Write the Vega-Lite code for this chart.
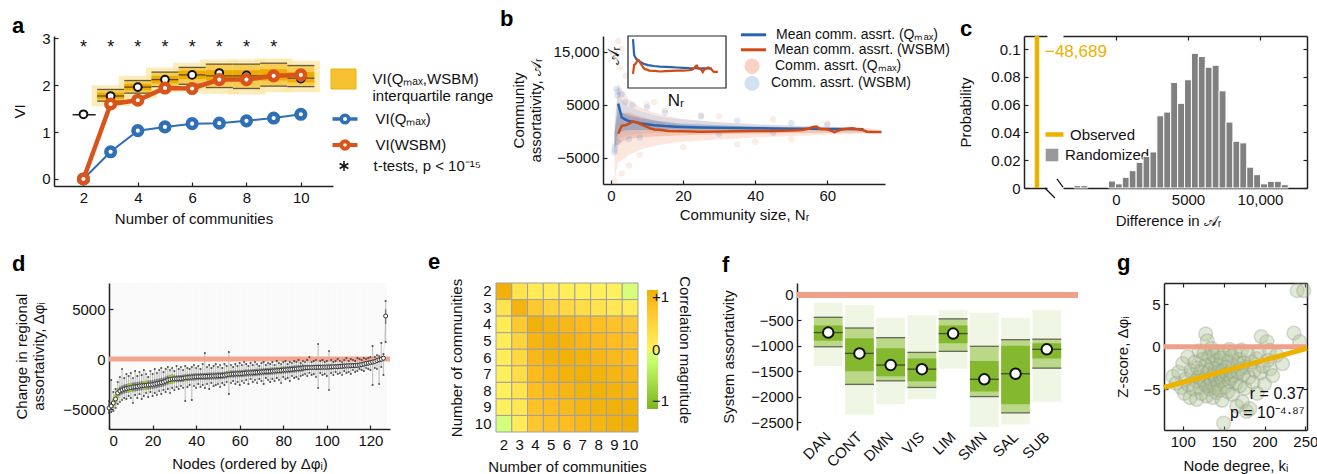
{
"$schema": "https://vega.github.io/schema/vega-lite/v6.json",
"background": "white",
"padding": {"left": 12, "top": 8, "right": 2, "bottom": 2},
"config": {
  "font": "Liberation Sans",
  "view": {"stroke": null},
  "axis": {"labelFontSize": 15, "titleFontSize": 15, "titleFontWeight": "normal", "labelColor": "#111", "titleColor": "#111", "domainColor": "#222", "tickColor": "#222", "domainWidth": 1.5, "tickWidth": 1.2, "grid": false, "tickSize": -4, "labelPadding": 8, "labelOverlap": false, "labelFont": "Liberation Sans", "titleFont": "Liberation Sans"},
  "legend": {"labelFontSize": 14, "labelFont": "Liberation Sans", "labelColor": "#111", "labelLimit": 400},
  "title": {"fontSize": 22, "fontWeight": "bold", "anchor": "start", "frame": "group", "color": "#000", "font": "Liberation Sans"}
},
"datasets": {
  "aIQR": [
    {"n":3,"q1":1.66,"q3":1.91,"med":1.77,"cl":1.71,"ch":1.84,"gl":1.55,"gh":2.0},
    {"n":4,"q1":1.83,"q3":2.1,"med":1.96,"cl":1.89,"ch":2.03,"gl":1.72,"gh":2.2},
    {"n":5,"q1":1.97,"q3":2.28,"med":2.12,"cl":2.04,"ch":2.2,"gl":1.85,"gh":2.38},
    {"n":6,"q1":2.02,"q3":2.38,"med":2.22,"cl":2.13,"ch":2.31,"gl":1.9,"gh":2.48},
    {"n":7,"q1":1.95,"q3":2.45,"med":2.2,"cl":2.1,"ch":2.32,"gl":1.82,"gh":2.55},
    {"n":8,"q1":1.93,"q3":2.45,"med":2.2,"cl":2.1,"ch":2.32,"gl":1.8,"gh":2.55},
    {"n":9,"q1":1.98,"q3":2.47,"med":2.2,"cl":2.1,"ch":2.34,"gl":1.85,"gh":2.57},
    {"n":10,"q1":1.97,"q3":2.42,"med":2.15,"cl":2.06,"ch":2.28,"gl":1.85,"gh":2.52}
  ],
  "aCirc": [{"n":2,"v":1.38},{"n":3,"v":1.77},{"n":4,"v":1.96},{"n":5,"v":2.12},{"n":6,"v":2.22},{"n":7,"v":2.26},{"n":8,"v":2.21},{"n":9,"v":2.2},{"n":10,"v":2.14}],
  "aVI": [{"n":2,"q":0,"w":0},{"n":3,"q":0.58,"w":1.6},{"n":4,"q":1.03,"w":1.68},{"n":5,"q":1.11,"w":1.94},{"n":6,"q":1.18,"w":1.93},{"n":7,"q":1.19,"w":2.12},{"n":8,"q":1.24,"w":2.12},{"n":9,"q":1.3,"w":2.2},{"n":10,"q":1.38,"w":2.22}],
  "aStars": [{"n":2},{"n":3},{"n":4},{"n":5},{"n":6},{"n":7},{"n":8},{"n":9}],
  "bMeanQ": [{"x":2,"y":5200},{"x":3,"y":2600},{"x":4,"y":2200},{"x":5,"y":1900},{"x":6,"y":1800},{"x":7,"y":1700},{"x":8,"y":1500},{"x":10,"y":1300},{"x":12,"y":1100},{"x":15,"y":950},{"x":18,"y":850},{"x":20,"y":800},{"x":25,"y":700},{"x":30,"y":650},{"x":35,"y":600},{"x":40,"y":550},{"x":45,"y":500},{"x":50,"y":450},{"x":55,"y":430},{"x":60,"y":420},{"x":65,"y":400},{"x":70,"y":380}],
  "bMeanW": [{"x":2,"y":-500},{"x":3,"y":1000},{"x":4,"y":1100},{"x":5,"y":1400},{"x":6,"y":1800},{"x":7,"y":1700},{"x":8,"y":1400},{"x":9,"y":1100},{"x":10,"y":800},{"x":11,"y":500},{"x":12,"y":300},{"x":14,"y":200},{"x":16,"y":50},{"x":20,"y":0},{"x":25,"y":-100},{"x":30,"y":-50},{"x":35,"y":0},{"x":40,"y":50},{"x":45,"y":50},{"x":50,"y":100},{"x":53,"y":200},{"x":55,"y":500},{"x":56,"y":800},{"x":57,"y":850},{"x":58,"y":400},{"x":60,"y":350},{"x":61,"y":100},{"x":62,"y":-200},{"x":63,"y":100},{"x":64,"y":300},{"x":66,"y":500},{"x":67,"y":550},{"x":68,"y":400},{"x":69,"y":300},{"x":70,"y":150},{"x":71,"y":-100},{"x":72,"y":-150},{"x":75,"y":-150}],
  "bEnvW": [{"x":1,"lo":-9000,"hi":1500,"lo2":-3000,"hi2":0},{"x":2,"lo":-6000,"hi":9000,"lo2":-2500,"hi2":3000},{"x":3,"lo":-5500,"hi":8000,"lo2":-2000,"hi2":3500},{"x":5,"lo":-4500,"hi":6000,"lo2":-1500,"hi2":3500},{"x":8,"lo":-3500,"hi":4500,"lo2":-1200,"hi2":2800},{"x":12,"lo":-2800,"hi":3500,"lo2":-1000,"hi2":2000},{"x":16,"lo":-2300,"hi":2800,"lo2":-900,"hi2":1500},{"x":20,"lo":-2000,"hi":2300,"lo2":-800,"hi2":1100},{"x":30,"lo":-1600,"hi":1700,"lo2":-600,"hi2":700},{"x":40,"lo":-1200,"hi":1300,"lo2":-500,"hi2":500},{"x":50,"lo":-900,"hi":1000,"lo2":-400,"hi2":500},{"x":60,"lo":-700,"hi":900,"lo2":-300,"hi2":600},{"x":70,"lo":-500,"hi":700,"lo2":-300,"hi2":400},{"x":75,"lo":-400,"hi":100,"lo2":-300,"hi2":0}],
  "bEnvQ": [{"x":1,"lo":-3500,"hi":500,"lo2":-3000,"hi2":-200},{"x":2,"lo":-1500,"hi":8500,"lo2":-500,"hi2":5500},{"x":3,"lo":-1200,"hi":6000,"lo2":0,"hi2":3500},{"x":5,"lo":-800,"hi":4500,"lo2":200,"hi2":3000},{"x":8,"lo":-500,"hi":3800,"lo2":200,"hi2":2500},{"x":12,"lo":-300,"hi":3000,"lo2":300,"hi2":2000},{"x":16,"lo":-200,"hi":2500,"lo2":300,"hi2":1700},{"x":20,"lo":-100,"hi":2200,"lo2":300,"hi2":1400},{"x":30,"lo":0,"hi":1700,"lo2":300,"hi2":1100},{"x":40,"lo":100,"hi":1300,"lo2":300,"hi2":900},{"x":50,"lo":200,"hi":1000,"lo2":300,"hi2":750},{"x":60,"lo":250,"hi":800,"lo2":350,"hi2":650},{"x":70,"lo":300,"hi":600,"lo2":350,"hi2":500}],
  "bPts": [{"x":2,"y":17000,"s":"W"},{"x":3,"y":15500,"s":"W"},{"x":2.5,"y":12000,"s":"W"},{"x":4,"y":10500,"s":"W"},{"x":3,"y":-8000,"s":"W"},{"x":1,"y":-9500,"s":"W"},{"x":6,"y":9000,"s":"W"},{"x":5,"y":-6500,"s":"W"},{"x":10,"y":5000,"s":"W"},{"x":15,"y":4000,"s":"W"},{"x":25,"y":3000,"s":"W"},{"x":35,"y":-2500,"s":"W"},{"x":50,"y":-1500,"s":"W"},{"x":45,"y":2200,"s":"W"},{"x":20,"y":-3000,"s":"W"},{"x":8,"y":-4500,"s":"W"},{"x":12,"y":5500,"s":"W"},{"x":30,"y":2800,"s":"W"},{"x":60,"y":1500,"s":"W"},{"x":40,"y":-2000,"s":"W"},
    {"x":1.5,"y":8000,"s":"Q"},{"x":2,"y":7500,"s":"Q"},{"x":1.8,"y":6800,"s":"Q"},{"x":3,"y":7000,"s":"Q"},{"x":4,"y":5500,"s":"Q"},{"x":6,"y":5000,"s":"Q"},{"x":10,"y":4500,"s":"Q"},{"x":15,"y":3500,"s":"Q"},{"x":25,"y":2800,"s":"Q"},{"x":35,"y":2000,"s":"Q"},{"x":50,"y":1500,"s":"Q"},{"x":1,"y":-4000,"s":"Q"},{"x":1,"y":-3500,"s":"Q"},{"x":1.2,"y":-2800,"s":"Q"},{"x":2,"y":-2000,"s":"Q"},{"x":5,"y":-1500,"s":"Q"},{"x":8,"y":-1200,"s":"Q"},{"x":45,"y":-300,"s":"Q"},{"x":30,"y":-500,"s":"Q"},{"x":60,"y":1200,"s":"Q"}],
  "cHist": [{"b0":-2920,"b1":-2440,"p":0.0017},{"b0":-2440,"b1":-1960,"p":0.0017},{"b0":-520,"b1":-40,"p":0.005},{"b0":-40,"b1":440,"p":0.003},{"b0":440,"b1":920,"p":0.0077},{"b0":920,"b1":1400,"p":0.0125},{"b0":1400,"b1":1880,"p":0.0185},{"b0":1880,"b1":2360,"p":0.0227},{"b0":2360,"b1":2840,"p":0.026},{"b0":2840,"b1":3320,"p":0.052},{"b0":3320,"b1":3800,"p":0.0547},{"b0":3800,"b1":4280,"p":0.076},{"b0":4280,"b1":4760,"p":0.061},{"b0":4760,"b1":5240,"p":0.078},{"b0":5240,"b1":5720,"p":0.097},{"b0":5720,"b1":6200,"p":0.0947},{"b0":6200,"b1":6680,"p":0.087},{"b0":6680,"b1":7160,"p":0.0884},{"b0":7160,"b1":7640,"p":0.070},{"b0":7640,"b1":8120,"p":0.0475},{"b0":8120,"b1":8600,"p":0.0337},{"b0":8600,"b1":9080,"p":0.0325},{"b0":9080,"b1":9560,"p":0.015},{"b0":9560,"b1":10040,"p":0.0096},{"b0":10040,"b1":10520,"p":0.003},{"b0":10520,"b1":11000,"p":0.0048},{"b0":11000,"b1":11480,"p":0.0048},{"b0":11480,"b1":11960,"p":0.0024}],
  "dData": [
    {"n":0,"m":-4900,"q1":-5300,"q3":-4500,"lo":-5400,"hi":-4200,"g":0},
    {"n":1,"m":-4700,"q1":-5100,"q3":-4300,"lo":-5300,"hi":-2100,"g":0},
    {"n":2,"m":-4400,"q1":-4850,"q3":-3950,"lo":-5200,"hi":-3300,"g":1},
    {"n":3,"m":-4000,"q1":-4450,"q3":-3550,"lo":-4900,"hi":-3000,"g":1},
    {"n":4,"m":-3400,"q1":-3850,"q3":-2950,"lo":-4500,"hi":-2300,"g":1},
    {"n":5,"m":-3200,"q1":-3650,"q3":-2750,"lo":-4300,"hi":-1800,"g":0},
    {"n":6,"m":-3100,"q1":-3550,"q3":-2650,"lo":-4100,"hi":-1000,"g":0},
    {"n":7,"m":-3000,"q1":-3450,"q3":-2550,"lo":-3900,"hi":-1900,"g":0},
    {"n":8,"m":-2950,"q1":-3400,"q3":-2500,"lo":-4000,"hi":-1500,"g":0},
    {"n":9,"m":-2900,"q1":-3350,"q3":-2450,"lo":-3700,"hi":-1700,"g":1},
    {"n":10,"m":-2850,"q1":-3300,"q3":-2400,"lo":-3900,"hi":-1400,"g":1},
    {"n":11,"m":-2800,"q1":-3250,"q3":-2350,"lo":-4400,"hi":-1900,"g":0},
    {"n":12,"m":-2780,"q1":-3230,"q3":-2330,"lo":-3600,"hi":-1200,"g":0},
    {"n":13,"m":-2750,"q1":-3200,"q3":-2300,"lo":-3900,"hi":-1700,"g":0},
    {"n":14,"m":-2700,"q1":-3150,"q3":-2250,"lo":-3500,"hi":-1300,"g":0},
    {"n":15,"m":-2680,"q1":-3130,"q3":-2230,"lo":-4000,"hi":-1600,"g":0},
    {"n":16,"m":-2650,"q1":-3100,"q3":-2200,"lo":-3700,"hi":-1100,"g":1},
    {"n":17,"m":-2620,"q1":-3070,"q3":-2170,"lo":-3400,"hi":-1500,"g":1},
    {"n":18,"m":-2600,"q1":-3050,"q3":-2150,"lo":-3800,"hi":-1800,"g":0},
    {"n":19,"m":-2580,"q1":-3030,"q3":-2130,"lo":-3300,"hi":-1200,"g":0},
    {"n":20,"m":-2550,"q1":-3000,"q3":-2100,"lo":-3700,"hi":-1500,"g":0},
    {"n":21,"m":-2500,"q1":-2950,"q3":-2050,"lo":-3400,"hi":-1000,"g":0},
    {"n":22,"m":-2450,"q1":-2900,"q3":-2000,"lo":-3600,"hi":-1400,"g":0},
    {"n":23,"m":-2400,"q1":-2850,"q3":-1950,"lo":-3200,"hi":-1100,"g":0},
    {"n":24,"m":-2350,"q1":-2800,"q3":-1900,"lo":-3500,"hi":-900,"g":0},
    {"n":25,"m":-2300,"q1":-2750,"q3":-1850,"lo":-3100,"hi":-1300,"g":0},
    {"n":26,"m":-2200,"q1":-2650,"q3":-1750,"lo":-3300,"hi":-1000,"g":0},
    {"n":27,"m":-2100,"q1":-2550,"q3":-1650,"lo":-3000,"hi":-800,"g":0},
    {"n":28,"m":-2050,"q1":-2500,"q3":-1600,"lo":-3400,"hi":-1100,"g":1},
    {"n":29,"m":-2000,"q1":-2450,"q3":-1550,"lo":-2900,"hi":-900,"g":1},
    {"n":30,"m":-1990,"q1":-2340,"q3":-1640,"lo":-3100,"hi":-1200,"g":0},
    {"n":31,"m":-1980,"q1":-2330,"q3":-1630,"lo":-2800,"hi":-700,"g":0},
    {"n":32,"m":-1960,"q1":-2310,"q3":-1610,"lo":-3000,"hi":-1000,"g":0},
    {"n":33,"m":-1950,"q1":-2300,"q3":-1600,"lo":-2700,"hi":-800,"g":0},
    {"n":34,"m":-1920,"q1":-2270,"q3":-1570,"lo":-2900,"hi":-1100,"g":0},
    {"n":35,"m":-1880,"q1":-2230,"q3":-1530,"lo":-4200,"hi":-700,"g":1},
    {"n":36,"m":-1850,"q1":-2200,"q3":-1500,"lo":-2800,"hi":-900,"g":0},
    {"n":37,"m":-1830,"q1":-2180,"q3":-1480,"lo":-2600,"hi":-1000,"g":0},
    {"n":38,"m":-1810,"q1":-2160,"q3":-1460,"lo":-4100,"hi":-800,"g":0},
    {"n":39,"m":-1790,"q1":-2140,"q3":-1440,"lo":-2700,"hi":-600,"g":0},
    {"n":40,"m":-1780,"q1":-2130,"q3":-1430,"lo":-2900,"hi":-900,"g":0},
    {"n":41,"m":-1770,"q1":-2120,"q3":-1420,"lo":-2500,"hi":-700,"g":0},
    {"n":42,"m":-1760,"q1":-2110,"q3":-1410,"lo":-2800,"hi":-1000,"g":0},
    {"n":43,"m":-1750,"q1":-2100,"q3":-1400,"lo":-2600,"hi":-500,"g":0},
    {"n":44,"m":-1740,"q1":-2090,"q3":-1390,"lo":-2900,"hi":600,"g":0},
    {"n":45,"m":-1730,"q1":-2080,"q3":-1380,"lo":-2500,"hi":-800,"g":0},
    {"n":46,"m":-1720,"q1":-2070,"q3":-1370,"lo":-3000,"hi":-600,"g":0},
    {"n":47,"m":-1710,"q1":-2060,"q3":-1360,"lo":-2400,"hi":-900,"g":0},
    {"n":48,"m":-1700,"q1":-2050,"q3":-1350,"lo":-2700,"hi":-700,"g":0},
    {"n":49,"m":-1690,"q1":-2040,"q3":-1340,"lo":-2600,"hi":-500,"g":0},
    {"n":50,"m":-1680,"q1":-2030,"q3":-1330,"lo":-2500,"hi":-800,"g":0},
    {"n":51,"m":-1670,"q1":-2020,"q3":-1320,"lo":-2800,"hi":-600,"g":0},
    {"n":52,"m":-1650,"q1":-2000,"q3":-1300,"lo":-2400,"hi":-900,"g":0},
    {"n":53,"m":-1620,"q1":-1970,"q3":-1270,"lo":-2600,"hi":-500,"g":0},
    {"n":54,"m":-1580,"q1":-1930,"q3":-1230,"lo":-2300,"hi":-700,"g":0},
    {"n":55,"m":-1530,"q1":-1880,"q3":-1180,"lo":-3500,"hi":700,"g":1},
    {"n":56,"m":-1510,"q1":-1860,"q3":-1160,"lo":-2400,"hi":-600,"g":0},
    {"n":57,"m":-1500,"q1":-1850,"q3":-1150,"lo":-2200,"hi":-800,"g":0},
    {"n":58,"m":-1490,"q1":-1840,"q3":-1140,"lo":-2500,"hi":-500,"g":0},
    {"n":59,"m":-1480,"q1":-1830,"q3":-1130,"lo":-2300,"hi":-700,"g":0},
    {"n":60,"m":-1470,"q1":-1820,"q3":-1120,"lo":-2600,"hi":-400,"g":0},
    {"n":61,"m":-1450,"q1":-1800,"q3":-1100,"lo":-2200,"hi":-600,"g":0},
    {"n":62,"m":-1420,"q1":-1770,"q3":-1070,"lo":-2400,"hi":-300,"g":0},
    {"n":63,"m":-1400,"q1":-1750,"q3":-1050,"lo":-2100,"hi":-500,"g":0},
    {"n":64,"m":-1390,"q1":-1740,"q3":-1040,"lo":-2500,"hi":-700,"g":0},
    {"n":65,"m":-1380,"q1":-1730,"q3":-1030,"lo":-2000,"hi":-400,"g":0},
    {"n":66,"m":-1370,"q1":-1720,"q3":-1020,"lo":-2300,"hi":-600,"g":0},
    {"n":67,"m":-1350,"q1":-1700,"q3":-1000,"lo":-2100,"hi":-300,"g":0},
    {"n":68,"m":-1330,"q1":-1680,"q3":-980,"lo":-2400,"hi":-500,"g":0},
    {"n":69,"m":-1310,"q1":-1660,"q3":-960,"lo":-2000,"hi":-700,"g":0},
    {"n":70,"m":-1290,"q1":-1640,"q3":-940,"lo":-2200,"hi":-400,"g":0},
    {"n":71,"m":-1270,"q1":-1620,"q3":-920,"lo":-2500,"hi":-300,"g":0},
    {"n":72,"m":-1250,"q1":-1600,"q3":-900,"lo":-1900,"hi":-600,"g":0},
    {"n":73,"m":-1240,"q1":-1590,"q3":-890,"lo":-2100,"hi":-400,"g":0},
    {"n":74,"m":-1230,"q1":-1580,"q3":-880,"lo":-2300,"hi":-500,"g":0},
    {"n":75,"m":-1210,"q1":-1560,"q3":-860,"lo":-2000,"hi":-300,"g":0},
    {"n":76,"m":-1190,"q1":-1540,"q3":-840,"lo":-2200,"hi":-600,"g":0},
    {"n":77,"m":-1170,"q1":-1520,"q3":-820,"lo":-1900,"hi":-200,"g":0},
    {"n":78,"m":-1150,"q1":-1500,"q3":-800,"lo":-2100,"hi":-400,"g":1},
    {"n":79,"m":-1130,"q1":-1480,"q3":-780,"lo":-2400,"hi":-500,"g":0},
    {"n":80,"m":-1110,"q1":-1460,"q3":-760,"lo":-1800,"hi":-300,"g":0},
    {"n":81,"m":-1090,"q1":-1440,"q3":-740,"lo":-2000,"hi":-200,"g":0},
    {"n":82,"m":-1070,"q1":-1420,"q3":-720,"lo":-1900,"hi":-500,"g":0},
    {"n":83,"m":-1050,"q1":-1400,"q3":-700,"lo":-2200,"hi":-300,"g":0},
    {"n":84,"m":-1030,"q1":-1380,"q3":-680,"lo":-1700,"hi":-400,"g":0},
    {"n":85,"m":-1010,"q1":-1360,"q3":-660,"lo":-1900,"hi":-200,"g":0},
    {"n":86,"m":-990,"q1":-1340,"q3":-640,"lo":-1800,"hi":-300,"g":0},
    {"n":87,"m":-960,"q1":-1310,"q3":-610,"lo":-2000,"hi":-100,"g":0},
    {"n":88,"m":-930,"q1":-1280,"q3":-580,"lo":-1700,"hi":-400,"g":0},
    {"n":89,"m":-900,"q1":-1250,"q3":-550,"lo":-1600,"hi":-200,"g":0},
    {"n":90,"m":-880,"q1":-1130,"q3":-630,"lo":-1500,"hi":-300,"g":0},
    {"n":91,"m":-870,"q1":-1120,"q3":-620,"lo":-1700,"hi":-100,"g":0},
    {"n":92,"m":-860,"q1":-1110,"q3":-610,"lo":-1400,"hi":200,"g":0},
    {"n":93,"m":-850,"q1":-1100,"q3":-600,"lo":-1600,"hi":-300,"g":0},
    {"n":94,"m":-840,"q1":-1090,"q3":-590,"lo":-1500,"hi":-200,"g":0},
    {"n":95,"m":-835,"q1":-1085,"q3":-585,"lo":-1800,"hi":-100,"g":0},
    {"n":96,"m":-830,"q1":-1080,"q3":-580,"lo":-2900,"hi":1500,"g":1},
    {"n":97,"m":-825,"q1":-1075,"q3":-575,"lo":-1400,"hi":-200,"g":0},
    {"n":98,"m":-820,"q1":-1070,"q3":-570,"lo":-1600,"hi":-100,"g":0},
    {"n":99,"m":-815,"q1":-1065,"q3":-565,"lo":-1500,"hi":-300,"g":0},
    {"n":100,"m":-810,"q1":-1060,"q3":-560,"lo":-1700,"hi":-200,"g":0},
    {"n":101,"m":-800,"q1":-1050,"q3":-550,"lo":-3100,"hi":800,"g":0},
    {"n":102,"m":-790,"q1":-1040,"q3":-540,"lo":-1400,"hi":-100,"g":0},
    {"n":103,"m":-780,"q1":-1030,"q3":-530,"lo":-1600,"hi":-300,"g":0},
    {"n":104,"m":-770,"q1":-1020,"q3":-520,"lo":-1300,"hi":-200,"g":0},
    {"n":105,"m":-760,"q1":-1010,"q3":-510,"lo":-1500,"hi":0,"g":0},
    {"n":106,"m":-740,"q1":-990,"q3":-490,"lo":-1400,"hi":-200,"g":0},
    {"n":107,"m":-720,"q1":-970,"q3":-470,"lo":-1600,"hi":-300,"g":0},
    {"n":108,"m":-700,"q1":-950,"q3":-450,"lo":-1200,"hi":-100,"g":0},
    {"n":109,"m":-690,"q1":-940,"q3":-440,"lo":-1400,"hi":100,"g":0},
    {"n":110,"m":-680,"q1":-930,"q3":-430,"lo":-1300,"hi":-200,"g":0},
    {"n":111,"m":-670,"q1":-920,"q3":-420,"lo":-1500,"hi":0,"g":0},
    {"n":112,"m":-660,"q1":-910,"q3":-410,"lo":-1100,"hi":-100,"g":0},
    {"n":113,"m":-650,"q1":-900,"q3":-400,"lo":-1300,"hi":-200,"g":0},
    {"n":114,"m":-630,"q1":-880,"q3":-380,"lo":-1200,"hi":100,"g":0},
    {"n":115,"m":-600,"q1":-850,"q3":-350,"lo":-1000,"hi":0,"g":0},
    {"n":116,"m":-560,"q1":-810,"q3":-310,"lo":-1100,"hi":-100,"g":0},
    {"n":117,"m":-500,"q1":-750,"q3":-250,"lo":-1200,"hi":100,"g":0},
    {"n":118,"m":-440,"q1":-690,"q3":-190,"lo":-900,"hi":0,"g":0},
    {"n":119,"m":-400,"q1":-650,"q3":-150,"lo":-1000,"hi":100,"g":0},
    {"n":120,"m":-350,"q1":-600,"q3":-100,"lo":-1100,"hi":200,"g":0},
    {"n":121,"m":-300,"q1":-550,"q3":-50,"lo":-2600,"hi":1300,"g":0},
    {"n":122,"m":-250,"q1":-500,"q3":0,"lo":-900,"hi":200,"g":0},
    {"n":123,"m":-150,"q1":-400,"q3":100,"lo":-1000,"hi":400,"g":0},
    {"n":124,"m":-80,"q1":-330,"q3":170,"lo":-2500,"hi":300,"g":0},
    {"n":125,"m":-20,"q1":-270,"q3":230,"lo":-800,"hi":1600,"g":0},
    {"n":126,"m":80,"q1":-170,"q3":330,"lo":-1600,"hi":500,"g":0},
    {"n":127,"m":4300,"q1":3500,"q3":5000,"lo":1700,"hi":5800,"g":0}
  ],
  "eData": [
    {"r":2,"c":2,"v":0.95},{"r":2,"c":3,"v":0.2},{"r":2,"c":4,"v":0.1},{"r":2,"c":5,"v":0.08},{"r":2,"c":6,"v":0.06},{"r":2,"c":7,"v":0.04},{"r":2,"c":8,"v":0.02},{"r":2,"c":9,"v":0.01},{"r":2,"c":10,"v":-0.03},
    {"r":3,"c":2,"v":0.2},{"r":3,"c":3,"v":0.92},{"r":3,"c":4,"v":0.6},{"r":3,"c":5,"v":0.45},{"r":3,"c":6,"v":0.38},{"r":3,"c":7,"v":0.3},{"r":3,"c":8,"v":0.2},{"r":3,"c":9,"v":0.14},{"r":3,"c":10,"v":0.08},
    {"r":4,"c":2,"v":0.1},{"r":4,"c":3,"v":0.6},{"r":4,"c":4,"v":0.95},{"r":4,"c":5,"v":0.9},{"r":4,"c":6,"v":0.85},{"r":4,"c":7,"v":0.8},{"r":4,"c":8,"v":0.75},{"r":4,"c":9,"v":0.7},{"r":4,"c":10,"v":0.62},
    {"r":5,"c":2,"v":0.08},{"r":5,"c":3,"v":0.45},{"r":5,"c":4,"v":0.9},{"r":5,"c":5,"v":0.95},{"r":5,"c":6,"v":0.93},{"r":5,"c":7,"v":0.88},{"r":5,"c":8,"v":0.83},{"r":5,"c":9,"v":0.78},{"r":5,"c":10,"v":0.72},
    {"r":6,"c":2,"v":0.06},{"r":6,"c":3,"v":0.38},{"r":6,"c":4,"v":0.85},{"r":6,"c":5,"v":0.93},{"r":6,"c":6,"v":0.96},{"r":6,"c":7,"v":0.93},{"r":6,"c":8,"v":0.88},{"r":6,"c":9,"v":0.84},{"r":6,"c":10,"v":0.78},
    {"r":7,"c":2,"v":0.04},{"r":7,"c":3,"v":0.3},{"r":7,"c":4,"v":0.8},{"r":7,"c":5,"v":0.88},{"r":7,"c":6,"v":0.93},{"r":7,"c":7,"v":0.96},{"r":7,"c":8,"v":0.93},{"r":7,"c":9,"v":0.9},{"r":7,"c":10,"v":0.85},
    {"r":8,"c":2,"v":0.02},{"r":8,"c":3,"v":0.2},{"r":8,"c":4,"v":0.75},{"r":8,"c":5,"v":0.83},{"r":8,"c":6,"v":0.88},{"r":8,"c":7,"v":0.93},{"r":8,"c":8,"v":0.96},{"r":8,"c":9,"v":0.93},{"r":8,"c":10,"v":0.9},
    {"r":9,"c":2,"v":0.01},{"r":9,"c":3,"v":0.14},{"r":9,"c":4,"v":0.7},{"r":9,"c":5,"v":0.78},{"r":9,"c":6,"v":0.84},{"r":9,"c":7,"v":0.9},{"r":9,"c":8,"v":0.93},{"r":9,"c":9,"v":0.96},{"r":9,"c":10,"v":0.94},
    {"r":10,"c":2,"v":-0.03},{"r":10,"c":3,"v":0.08},{"r":10,"c":4,"v":0.62},{"r":10,"c":5,"v":0.72},{"r":10,"c":6,"v":0.78},{"r":10,"c":7,"v":0.85},{"r":10,"c":8,"v":0.9},{"r":10,"c":9,"v":0.94},{"r":10,"c":10,"v":0.97}
  ],
  "fData": [
    {"sys":"DAN","med":-740,"qh":-440,"ql":-1020,"ch":-600,"cl":-900,"fh":-150,"fl":-1400},
    {"sys":"CONT","med":-1150,"qh":-650,"ql":-1760,"ch":-850,"cl":-1500,"fh":-200,"fl":-2350},
    {"sys":"DMN","med":-1380,"qh":-840,"ql":-1690,"ch":-1050,"cl":-1600,"fh":-450,"fl":-2150},
    {"sys":"VIS","med":-1460,"qh":-1130,"ql":-1820,"ch":-1250,"cl":-1700,"fh":-400,"fl":-2050},
    {"sys":"LIM","med":-760,"qh":-470,"ql":-1110,"ch":-600,"cl":-950,"fh":-300,"fl":-1450},
    {"sys":"SMN","med":-1660,"qh":-1010,"ql":-2000,"ch":-1300,"cl":-1900,"fh":-350,"fl":-2600},
    {"sys":"SAL","med":-1550,"qh":-880,"ql":-2320,"ch":-1000,"cl":-2150,"fh":-450,"fl":-2550},
    {"sys":"SUB","med":-1070,"qh":-870,"ql":-1440,"ch":-950,"cl":-1250,"fh":-300,"fl":-2100}
  ],
  "gData": [
    {"k":88,"z":-3.5},{"k":92,"z":-4.3},{"k":95,"z":-3.0},{"k":98,"z":-4.8},{"k":100,"z":-2.0},{"k":102,"z":-5.5},{"k":104,"z":-3.8},{"k":106,"z":-1.2},{"k":107,"z":-4.5},{"k":109,"z":-6.0},
    {"k":110,"z":-2.8},{"k":112,"z":-3.3},{"k":113,"z":-5.0},{"k":115,"z":-1.8},{"k":116,"z":-4.0},{"k":117,"z":-6.2},{"k":118,"z":-2.5},{"k":119,"z":-3.6},{"k":120,"z":-0.5},{"k":121,"z":-4.8},
    {"k":122,"z":-2.9},{"k":123,"z":-5.5},{"k":124,"z":-1.5},{"k":125,"z":-3.9},{"k":126,"z":-0.8},{"k":127,"z":-4.4},{"k":128,"z":1.5},{"k":128,"z":-2.2},{"k":129,"z":-5.8},{"k":130,"z":0.7},
    {"k":130,"z":-3.1},{"k":131,"z":-4.6},{"k":132,"z":-1.2},{"k":133,"z":-2.7},{"k":133,"z":-5.0},{"k":134,"z":-3.8},{"k":135,"z":-0.2},{"k":135,"z":-4.2},{"k":136,"z":-2.0},{"k":137,"z":-6.0},
    {"k":138,"z":-3.3},{"k":138,"z":-1.0},{"k":139,"z":-4.8},{"k":140,"z":-2.6},{"k":141,"z":-3.9},{"k":141,"z":-5.4},{"k":142,"z":-1.6},{"k":143,"z":-0.6},{"k":143,"z":-4.4},{"k":144,"z":-3.0},
    {"k":145,"z":-2.2},{"k":145,"z":-5.1},{"k":146,"z":-3.6},{"k":147,"z":-1.3},{"k":148,"z":-4.0},{"k":148,"z":-6.3},{"k":149,"z":-2.8},{"k":150,"z":-9.0},{"k":150,"z":-3.4},{"k":151,"z":-0.9},
    {"k":152,"z":-4.7},{"k":153,"z":-2.4},{"k":154,"z":-3.2},{"k":155,"z":-5.3},{"k":156,"z":-1.8},{"k":157,"z":-0.3},{"k":157,"z":-4.1},{"k":158,"z":-2.9},{"k":159,"z":-3.7},{"k":160,"z":-1.1},
    {"k":161,"z":-5.6},{"k":162,"z":-2.3},{"k":163,"z":-3.4},{"k":164,"z":-0.7},{"k":165,"z":-4.3},{"k":166,"z":-7.0},{"k":167,"z":-2.0},{"k":168,"z":-3.0},{"k":169,"z":-1.5},{"k":170,"z":-4.6},
    {"k":171,"z":-2.6},{"k":172,"z":-0.4},{"k":173,"z":-6.5},{"k":174,"z":-3.3},{"k":175,"z":-1.9},{"k":176,"z":-4.9},{"k":178,"z":-2.4},{"k":178,"z":-7.6},{"k":180,"z":-0.9},{"k":181,"z":-3.6},
    {"k":182,"z":-7.3},{"k":184,"z":-1.8},{"k":186,"z":-4.2},{"k":188,"z":-2.8},{"k":190,"z":-1.4},{"k":191,"z":-5.5},{"k":193,"z":-0.6},{"k":195,"z":-3.1},{"k":196,"z":1.2},{"k":198,"z":-2.3},
    {"k":200,"z":-4.4},{"k":203,"z":0.6},{"k":204,"z":-1.6},{"k":206,"z":-0.4},{"k":207,"z":-2.6},{"k":210,"z":-3.4},{"k":215,"z":-1.0},{"k":222,"z":-2.0},{"k":236,"z":1.6},{"k":240,"z":6.6},
    {"k":243,"z":0.6},{"k":248,"z":6.6}
  ]
},
"spacing": 23,
"resolve": {"scale": {"fill": "independent", "shape": "independent", "color": "independent", "stroke": "independent"}, "legend": {"fill": "independent", "shape": "independent", "color": "independent", "stroke": "independent"}},
"vconcat": [
 {"hconcat": [
  {
    "width": 279, "height": 150,
    "title": {"text": "a", "dx": -42, "offset": -7},
    "layer": [
      {"data": {"name": "aIQR"}, "mark": {"type": "bar", "width": 38, "color": "#fbe7a8", "opacity": 0.8},
       "encoding": {
         "x": {"field": "n", "type": "quantitative", "scale": {"domain": [1.1, 11], "nice": false, "zero": false}, "axis": {"values": [2,4,6,8,10], "title": "Number of communities", "titlePadding": 6}},
         "y": {"field": "gl", "type": "quantitative", "scale": {"domain": [-0.15, 3.05], "nice": false, "zero": false}, "axis": {"values": [0,1,2,3], "title": "VI", "titlePadding": 14}},
         "y2": {"field": "gh"}}},
      {"data": {"name": "aIQR"}, "mark": {"type": "bar", "width": 27, "color": "#f6c94a", "opacity": 0.9},
       "encoding": {"x": {"field": "n", "type": "quantitative"}, "y": {"field": "q1", "type": "quantitative"}, "y2": {"field": "q3"}}},
      {"data": {"name": "aIQR"}, "mark": {"type": "bar", "width": 27, "color": "#eeab00"},
       "encoding": {"x": {"field": "n", "type": "quantitative"}, "y": {"field": "cl", "type": "quantitative"}, "y2": {"field": "ch"}}},
      {"data": {"name": "aIQR"}, "mark": {"type": "tick", "orient": "horizontal", "size": 27, "thickness": 1.3, "color": "#222"},
       "encoding": {"x": {"field": "n", "type": "quantitative"}, "y": {"field": "q1", "type": "quantitative"}}},
      {"data": {"name": "aIQR"}, "mark": {"type": "tick", "orient": "horizontal", "size": 27, "thickness": 1.3, "color": "#222"},
       "encoding": {"x": {"field": "n", "type": "quantitative"}, "y": {"field": "q3", "type": "quantitative"}}},
      {"data": {"name": "aIQR"}, "mark": {"type": "tick", "orient": "horizontal", "size": 27, "thickness": 1.3, "color": "#222"},
       "encoding": {"x": {"field": "n", "type": "quantitative"}, "y": {"field": "med", "type": "quantitative"}}},
      {"data": {"values": [{}]}, "mark": {"type": "rule", "color": "#222", "strokeWidth": 1.5},
       "encoding": {"x": {"datum": 1.6, "type": "quantitative"}, "x2": {"datum": 2.45}, "y": {"datum": 1.37, "type": "quantitative"}}},
      {"data": {"name": "aCirc"}, "mark": {"type": "point", "filled": true, "fill": "white", "stroke": "#111", "strokeWidth": 2, "size": 60, "opacity": 1},
       "encoding": {"x": {"field": "n", "type": "quantitative"}, "y": {"field": "v", "type": "quantitative"}}},
      {"data": {"name": "aVI"}, "mark": {"type": "line", "color": "#2f6fb8", "strokeWidth": 2},
       "encoding": {"x": {"field": "n", "type": "quantitative"}, "y": {"field": "q", "type": "quantitative"}}},
      {"data": {"name": "aVI"}, "mark": {"type": "point", "filled": true, "fill": "white", "stroke": "#2f6fb8", "strokeWidth": 4.5, "size": 75, "opacity": 1},
       "encoding": {"x": {"field": "n", "type": "quantitative"}, "y": {"field": "q", "type": "quantitative"}}},
      {"data": {"name": "aVI"}, "mark": {"type": "line", "color": "#d9541a", "strokeWidth": 4.5},
       "encoding": {"x": {"field": "n", "type": "quantitative"}, "y": {"field": "w", "type": "quantitative"}}},
      {"data": {"name": "aVI"}, "mark": {"type": "point", "filled": true, "fill": "white", "stroke": "#d9541a", "strokeWidth": 4.5, "size": 75, "opacity": 1},
       "encoding": {"x": {"field": "n", "type": "quantitative"}, "y": {"field": "w", "type": "quantitative"}}},
      {"data": {"name": "aStars"}, "mark": {"type": "text", "fontSize": 18, "baseline": "middle", "dy": 4, "color": "#111"},
       "encoding": {"x": {"field": "n", "type": "quantitative"}, "y": {"datum": 2.87, "type": "quantitative"}, "text": {"value": "*"}}},
      {"data": {"values": [{"s": "VI(Qₘₐₓ,WSBM)"}]}, "mark": {"type": "point", "filled": true, "fill": "#f6c232", "stroke": "#eab20c", "opacity": 0},
       "encoding": {"shape": {"field": "s", "type": "nominal", "scale": {"range": ["M-1,-0.8H1V0.8H-1Z"]},
         "legend": {"title": null, "orient": "none", "legendX": 276.5, "legendY": 30, "symbolSize": 625, "symbolStrokeWidth": 1, "symbolOpacity": 1, "labelFontSize": 15, "labelOffset": 16,
                    "labelExpr": "['VI(Qₘₐₓ,WSBM)', 'interquartile range']"}}}},
      {"data": {"values": [{"s": "VI(Qₘₐₓ)"}]}, "mark": {"type": "point", "filled": true, "fill": "white", "stroke": "#2f6fb8", "opacity": 0},
       "encoding": {"shape": {"field": "s", "type": "nominal", "scale": {"range": ["M-1,0H-0.3M0.3,0H1M0.3,0A0.3,0.3,0,1,1,-0.3,0A0.3,0.3,0,1,1,0.3,0Z"]},
         "legend": {"title": null, "orient": "none", "legendX": 276.5, "legendY": 68.5, "symbolSize": 625, "symbolStrokeWidth": 3.5, "symbolOpacity": 1, "labelFontSize": 15, "labelOffset": 16}}}},
      {"data": {"values": [{"s": "VI(WSBM)"}]}, "mark": {"type": "point", "filled": true, "fill": "white", "stroke": "#d9541a", "opacity": 0},
       "encoding": {"shape": {"field": "s", "type": "nominal", "scale": {"range": ["M-1,0H-0.3M0.3,0H1M0.3,0A0.3,0.3,0,1,1,-0.3,0A0.3,0.3,0,1,1,0.3,0Z"]},
         "legend": {"title": null, "orient": "none", "legendX": 276.5, "legendY": 94.5, "symbolSize": 625, "symbolStrokeWidth": 4, "symbolOpacity": 1, "labelFontSize": 15, "labelOffset": 16}}}},
      {"data": {"values": [{"s": "t-tests, p < 10⁻¹⁵"}]}, "mark": {"type": "point", "filled": true, "fill": "transparent", "stroke": "#111", "opacity": 0},
       "encoding": {"shape": {"field": "s", "type": "nominal", "scale": {"range": ["M0,-0.4V0.4M-0.35,-0.2L0.35,0.2M-0.35,0.2L0.35,-0.2"]},
         "legend": {"title": null, "orient": "none", "legendX": 276.5, "legendY": 116.5, "symbolSize": 625, "symbolStrokeWidth": 1.5, "symbolOpacity": 1, "labelFontSize": 15, "labelOffset": 16}}}}
    ],
    "resolve": {"scale": {"shape": "independent"}, "legend": {"shape": "independent"}}
  },
  {"width": 270, "height": 10, "data": {"values": []}, "mark": "point"},
  {
    "width": 282, "height": 148,
    "title": {"text": "b", "dx": -103, "offset": -7},
    "layer": [
      {"layer": [
        {"data": {"name": "bEnvW"}, "mark": {"type": "area", "color": "#f4b096", "opacity": 0.3},
         "encoding": {
           "x": {"field": "x", "type": "quantitative", "scale": {"domain": [-2.2, 76], "nice": false, "zero": false}, "axis": {"values": [0,20,40,60], "title": "Community size, Nᵣ", "titlePadding": 4}},
           "y": {"field": "lo", "type": "quantitative", "scale": {"domain": [-10000, 18000], "nice": false, "zero": false}, "axis": {"values": [-5000,0,5000,10000,15000], "title": ["Community", "assortativity, 𝒜ᵣ"], "titlePadding": 10, "labelExpr": "abs(datum.value) >= 10000 ? format(datum.value, ',') : format(datum.value, 'd')"}},
           "y2": {"field": "hi"}}},
        {"data": {"name": "bEnvQ"}, "mark": {"type": "area", "color": "#a9c4e6", "opacity": 0.35},
         "encoding": {"x": {"field": "x", "type": "quantitative"}, "y": {"field": "lo", "type": "quantitative"}, "y2": {"field": "hi"}}},
        {"data": {"name": "bEnvW"}, "mark": {"type": "area", "color": "#e07a50", "opacity": 0.3},
         "encoding": {"x": {"field": "x", "type": "quantitative"}, "y": {"field": "lo2", "type": "quantitative"}, "y2": {"field": "hi2"}}},
        {"data": {"name": "bEnvQ"}, "mark": {"type": "area", "color": "#4f86c6", "opacity": 0.4},
         "encoding": {"x": {"field": "x", "type": "quantitative"}, "y": {"field": "lo2", "type": "quantitative"}, "y2": {"field": "hi2"}}},
        {"data": {"name": "bPts"}, "transform": [{"filter": "datum.s == 'W'"}], "mark": {"type": "circle", "color": "#e8805a", "opacity": 0.15, "size": 40},
         "encoding": {"x": {"field": "x", "type": "quantitative"}, "y": {"field": "y", "type": "quantitative"}}},
        {"data": {"name": "bPts"}, "transform": [{"filter": "datum.s == 'Q'"}], "mark": {"type": "circle", "color": "#5b8fcf", "opacity": 0.2, "size": 40},
         "encoding": {"x": {"field": "x", "type": "quantitative"}, "y": {"field": "y", "type": "quantitative"}}},
        {"data": {"name": "bMeanQ"}, "mark": {"type": "line", "color": "#2a64ad", "strokeWidth": 2.5},
         "encoding": {"x": {"field": "x", "type": "quantitative"}, "y": {"field": "y", "type": "quantitative"}}},
        {"data": {"name": "bMeanW"}, "mark": {"type": "line", "color": "#cf4a14", "strokeWidth": 2.5},
         "encoding": {"x": {"field": "x", "type": "quantitative"}, "y": {"field": "y", "type": "quantitative"}}},
        {"data": {"values": [{"s": "Mean comm. assrt. (Qₘₐₓ)"}]}, "mark": {"type": "point", "filled": true, "fill": "transparent", "stroke": "#2a64ad", "opacity": 0},
         "encoding": {"shape": {"field": "s", "type": "nominal", "scale": {"range": ["M-1.45,0H1.45"]},
           "legend": {"title": null, "orient": "none", "legendX": 140, "legendY": -11.7, "symbolSize": 300, "symbolStrokeWidth": 3, "symbolOpacity": 1, "labelFontSize": 14, "labelOffset": 12}}}},
        {"data": {"values": [{"s": "Mean comm. assrt. (WSBM)"}]}, "mark": {"type": "point", "filled": true, "fill": "transparent", "stroke": "#cf4a14", "opacity": 0},
         "encoding": {"shape": {"field": "s", "type": "nominal", "scale": {"range": ["M-1.45,0H1.45"]},
           "legend": {"title": null, "orient": "none", "legendX": 140, "legendY": 3.3, "symbolSize": 300, "symbolStrokeWidth": 3, "symbolOpacity": 1, "labelFontSize": 14, "labelOffset": 10}}}},
        {"data": {"values": [{"s": "Comm. assrt. (Qₘₐₓ)"}]}, "mark": {"type": "point", "filled": true, "fill": "#f9d2c3", "stroke": "transparent", "opacity": 0},
         "encoding": {"shape": {"field": "s", "type": "nominal", "scale": {"range": ["M0.87,0A0.87,0.87,0,1,1,-0.87,0A0.87,0.87,0,1,1,0.87,0Z"]},
           "legend": {"title": null, "orient": "none", "legendX": 140, "legendY": 21.3, "symbolSize": 300, "symbolStrokeWidth": 0, "symbolOpacity": 1, "labelFontSize": 14, "labelOffset": 14}}}},
        {"data": {"values": [{"s": "Comm. assrt. (WSBM)"}]}, "mark": {"type": "point", "filled": true, "fill": "#d3e2f3", "stroke": "transparent", "opacity": 0},
         "encoding": {"shape": {"field": "s", "type": "nominal", "scale": {"range": ["M0.87,0A0.87,0.87,0,1,1,-0.87,0A0.87,0.87,0,1,1,0.87,0Z"]},
           "legend": {"title": null, "orient": "none", "legendX": 140, "legendY": 38.3, "symbolSize": 300, "symbolStrokeWidth": 0, "symbolOpacity": 1, "labelFontSize": 14, "labelOffset": 10}}}}
      ], "resolve": {"scale": {"shape": "independent"}, "legend": {"shape": "independent"}}},
      {"layer": [
        {"data": {"values": [{}]}, "mark": {"type": "rect", "fill": "white", "stroke": "#222", "strokeWidth": 1.2},
         "encoding": {
           "x": {"datum": -2.3, "type": "quantitative", "scale": {"domain": [-2.3, 82], "range": [25, 123], "nice": false, "zero": false}, "axis": null},
           "x2": {"datum": 82},
           "y": {"datum": -2800, "type": "quantitative", "scale": {"domain": [-2800, 5700], "range": [52, 0], "nice": false, "zero": false}, "axis": null},
           "y2": {"datum": 5700}}},
        {"data": {"name": "bMeanQ"}, "mark": {"type": "line", "color": "#2a64ad", "strokeWidth": 2.2},
         "encoding": {"x": {"field": "x", "type": "quantitative", "axis": null}, "y": {"field": "y", "type": "quantitative", "axis": null}}},
        {"data": {"name": "bMeanW"}, "mark": {"type": "line", "color": "#cf4a14", "strokeWidth": 2.2},
         "encoding": {"x": {"field": "x", "type": "quantitative", "axis": null}, "y": {"field": "y", "type": "quantitative", "axis": null}}},
        {"data": {"values": [{}]}, "mark": {"type": "text", "fontSize": 17, "baseline": "middle", "align": "center", "color": "#111"},
         "encoding": {"x": {"datum": 39, "type": "quantitative", "axis": null}, "y": {"datum": -4925, "type": "quantitative", "axis": null}, "text": {"value": "Nᵣ"}}},
        {"data": {"values": [{}]}, "mark": {"type": "text", "fontSize": 16, "baseline": "middle", "align": "center", "angle": 270, "color": "#111"},
         "encoding": {"x": {"datum": -14, "type": "quantitative", "axis": null}, "y": {"datum": 2430, "type": "quantitative", "axis": null}, "text": {"value": "𝒜ᵣ"}}}
      ]}
    ],
    "resolve": {"scale": {"x": "independent", "y": "independent"}}
  },
  {"width": 139, "height": 10, "data": {"values": []}, "mark": "point"},
  {
    "width": 23, "height": 152,
    "title": {"text": "c", "dx": -64, "offset": -7},
    "layer": [
      {"data": {"values": [{}]}, "mark": {"type": "rule", "color": "#EDB100", "strokeWidth": 4.5},
       "encoding": {"x": {"datum": -48689, "type": "quantitative", "scale": {"domain": [-49590, -47990], "nice": false, "zero": false}, "axis": {"orient": "bottom", "labels": false, "ticks": false, "title": null}}}},
      {"data": {"values": [{}]}, "mark": {"type": "text", "color": "#EDB100", "fontSize": 17, "align": "left", "baseline": "middle"},
       "encoding": {
         "x": {"datum": -48130, "type": "quantitative", "axis": {"orient": "top", "labels": false, "ticks": false, "title": null}},
         "y": {"datum": 0.098, "type": "quantitative", "scale": {"domain": [0, 0.1095], "nice": false, "zero": false}, "axis": {"orient": "left", "values": [0,0.02,0.04,0.06,0.08,0.1], "title": "Probability", "titlePadding": 17, "labelExpr": "datum.value == 0 ? '0' : format(datum.value, '.2~f')"}},
         "text": {"value": "−48,689"}}},
      {"data": {"values": [{}]}, "mark": {"type": "rule", "color": "#111", "strokeWidth": 1.2},
       "encoding": {"x": {"datum": -48132, "type": "quantitative", "axis": null}, "x2": {"datum": -47436}, "y": {"datum": 0, "type": "quantitative", "axis": null}, "y2": {"datum": -0.0072}}},
      {"data": {"values": [{"s": "Observed"}]}, "mark": {"type": "point", "filled": true, "fill": "transparent", "stroke": "#EDB100", "opacity": 0},
       "encoding": {"shape": {"field": "s", "type": "nominal", "scale": {"range": ["M-1,0H1"]},
         "legend": {"title": null, "orient": "none", "legendX": 19, "legendY": 87, "symbolSize": 324, "symbolStrokeWidth": 4.5, "symbolOpacity": 1, "labelFontSize": 15, "labelOffset": 4}}}},
      {"data": {"values": [{"s": "Randomized"}]}, "mark": {"type": "point", "filled": true, "fill": "#999999", "stroke": "transparent", "opacity": 0},
       "encoding": {"shape": {"field": "s", "type": "nominal", "scale": {"range": ["M-0.7,-0.7H0.7V0.7H-0.7Z"]},
         "legend": {"title": null, "orient": "none", "legendX": 19, "legendY": 110, "symbolSize": 324, "symbolStrokeWidth": 0, "symbolOpacity": 1, "labelFontSize": 15, "labelOffset": 4}}}}
    ],
    "resolve": {"axis": {"x": "independent", "y": "independent"}, "scale": {"shape": "independent"}, "legend": {"shape": "independent"}}
  },
  {"width": 16, "height": 10, "data": {"values": []}, "mark": "point"},
  {
    "width": 244, "height": 152,
    "layer": [
      {"data": {"name": "cHist"}, "mark": {"type": "bar", "color": "#808080", "stroke": "white", "strokeWidth": 1},
       "encoding": {
         "x": {"field": "b0", "type": "quantitative", "scale": {"domain": [-3680, 13264], "nice": false, "zero": false}, "axis": {"orient": "bottom", "values": [0,5000,10000], "title": "Difference in 𝒜ᵣ", "titleX": 105, "titlePadding": 6, "labelExpr": "abs(datum.value) >= 10000 ? format(datum.value, ',') : format(datum.value, 'd')"}},
         "x2": {"field": "b1"},
         "y": {"field": "p", "type": "quantitative", "scale": {"domain": [0, 0.1095], "nice": false, "zero": false}, "axis": null},
         "y2": {"datum": 0}}},
      {"data": {"values": [{}]}, "mark": {"type": "rule", "color": "#111", "strokeWidth": 1.2},
       "encoding": {
         "x": {"datum": -4100, "type": "quantitative", "axis": {"orient": "top", "values": [0,5000,10000], "labels": false, "title": null}},
         "x2": {"datum": -3680},
         "y": {"datum": 0.0066, "type": "quantitative", "axis": {"orient": "right", "values": [0,0.02,0.04,0.06,0.08,0.1], "labels": false, "title": null}},
         "y2": {"datum": 0.0007}}}
    ],
    "resolve": {"axis": {"x": "independent", "y": "independent"}}
  }
 ], "bounds": "flush", "spacing": 0,
 "resolve": {"scale": {"fill": "independent", "shape": "independent", "color": "independent", "stroke": "independent"}, "legend": {"fill": "independent", "shape": "independent", "color": "independent", "stroke": "independent"}}},
 {"hconcat": [
  {"width": 55, "height": 10, "data": {"values": []}, "mark": "point"},
  {
    "width": 281, "height": 146,
    "title": {"text": "d", "dx": -97, "offset": 6},
    "data": {"name": "dData"},
    "layer": [
      {"mark": {"type": "rule", "color": "#000", "opacity": 0.025, "strokeWidth": 2},
       "encoding": {
         "x": {"field": "n", "type": "quantitative", "scale": {"domain": [0, 129], "nice": false, "zero": false}, "axis": {"values": [0,20,40,60,80,100,120], "title": "Nodes (ordered by Δφᵢ)", "titlePadding": 8}},
         "y": {"datum": -7000, "type": "quantitative", "scale": {"domain": [-7000, 7600], "nice": false, "zero": false}, "axis": {"values": [-5000,0,5000], "format": "d", "title": ["Change in regional", "assortativity, Δφᵢ"], "titlePadding": 16}},
         "y2": {"datum": 7600}}},
      {"mark": {"type": "rule", "color": "#444", "opacity": 0.3, "strokeWidth": 1.2},
       "encoding": {"x": {"field": "n", "type": "quantitative"}, "y": {"field": "lo", "type": "quantitative"}, "y2": {"field": "hi"}}},
      {"mark": {"type": "area", "color": "#777", "opacity": 0.35},
       "encoding": {"x": {"field": "n", "type": "quantitative"}, "y": {"field": "q1", "type": "quantitative"}, "y2": {"field": "q3"}}},
      {"mark": {"type": "rule", "color": "#333", "opacity": 0.45, "strokeWidth": 1.6},
       "encoding": {"x": {"field": "n", "type": "quantitative"}, "y": {"field": "q1", "type": "quantitative"}, "y2": {"field": "q3"}}},
      {"transform": [{"filter": "datum.g == 1"}], "mark": {"type": "rule", "color": "#9ccc2c", "opacity": 0.9, "strokeWidth": 2.5},
       "encoding": {"x": {"field": "n", "type": "quantitative"}, "y": {"field": "q1", "type": "quantitative"}, "y2": {"field": "q3"}}},
      {"data": {"values": [{}]}, "mark": {"type": "rule", "color": "#f2a58e", "strokeWidth": 5},
       "encoding": {"y": {"datum": 0, "type": "quantitative"}}},
      {"mark": {"type": "point", "shape": "square", "filled": true, "color": "#333", "size": 3, "opacity": 0.9},
       "encoding": {"x": {"field": "n", "type": "quantitative"}, "y": {"field": "lo", "type": "quantitative"}}},
      {"mark": {"type": "point", "shape": "square", "filled": true, "color": "#333", "size": 3, "opacity": 0.9},
       "encoding": {"x": {"field": "n", "type": "quantitative"}, "y": {"field": "hi", "type": "quantitative"}}},
      {"mark": {"type": "point", "filled": true, "fill": "white", "stroke": "#333", "strokeWidth": 1, "size": 16, "opacity": 1},
       "encoding": {"x": {"field": "n", "type": "quantitative"}, "y": {"field": "m", "type": "quantitative"}}}
    ]
  },
  {"width": 106, "height": 10, "data": {"values": []}, "mark": "point"},
  {
    "width": 142, "height": 149,
    "title": {"text": "e", "dx": -68, "offset": 4},
    "data": {"name": "eData"},
    "mark": {"type": "rect", "stroke": "#a0a0a0", "strokeWidth": 1},
    "encoding": {
      "x": {"field": "c", "type": "ordinal", "axis": {"title": "Number of communities", "labelAngle": 0, "domain": false, "ticks": false, "labelPadding": 5, "titlePadding": 7}},
      "y": {"field": "r", "type": "ordinal", "axis": {"title": "Number of communities", "domain": false, "ticks": false, "labelPadding": 5, "titlePadding": 10}},
      "fill": {"field": "v", "type": "quantitative", "scale": {"domain": [-1, 0, 1], "range": ["#7db51e", "#ffffff", "#eeae00"]},
               "legend": {"title": "Correlation magnitude", "orient": "none", "legendX": 151, "legendY": 7, "direction": "vertical", "gradientLength": 119, "gradientThickness": 11, "titleOrient": "right", "titleAngle": 90, "titleFontSize": 15, "titleFontWeight": "normal", "titleColor": "#111", "labelFontSize": 15, "values": [-1, 0, 1], "labelExpr": "datum.value > 0 ? '+1' : (datum.value < 0 ? '−1' : '0')", "labelOffset": -6, "titlePadding": 8}}
    }
  },
  {"width": 159, "height": 10, "data": {"values": []}, "mark": "point"},
  {
    "width": 281, "height": 147,
    "title": {"text": "f", "dx": -75, "offset": 6},
    "data": {"name": "fData"},
    "layer": [
      {"mark": {"type": "bar", "color": "#7ab317", "opacity": 0.12, "width": {"band": 0.92}},
       "encoding": {
         "x": {"field": "sys", "type": "nominal", "sort": null, "scale": {"paddingInner": 0, "paddingOuter": 0.5}, "axis": {"title": null, "labelAngle": -45, "labelAlign": "right", "labelBaseline": "middle", "domain": false, "ticks": false, "labelPadding": 4}},
         "y": {"field": "fl", "type": "quantitative", "scale": {"domain": [-2657, 235], "nice": false, "zero": false}, "axis": {"values": [-2500,-2000,-1500,-1000,-500,0], "labelOverlap": false, "labelFontSize": 15, "labelExpr": "datum.value == 0 ? '0' : '−' + format(abs(datum.value), 'd')", "title": "System assortativity", "titlePadding": 14}},
         "y2": {"field": "fh"}}},
      {"mark": {"type": "bar", "color": "#7ab317", "opacity": 0.45, "width": {"band": 0.92}},
       "encoding": {"x": {"field": "sys", "type": "nominal", "sort": null}, "y": {"field": "ql", "type": "quantitative", "axis": null}, "y2": {"field": "qh"}}},
      {"mark": {"type": "bar", "color": "#72ad12", "opacity": 0.75, "width": {"band": 0.92}},
       "encoding": {"x": {"field": "sys", "type": "nominal", "sort": null}, "y": {"field": "cl", "type": "quantitative", "axis": null}, "y2": {"field": "ch"}}},
      {"data": {"values": [{}]}, "mark": {"type": "rule", "color": "#efa088", "strokeWidth": 6},
       "encoding": {"y": {"datum": 0, "type": "quantitative", "axis": null}}},
      {"mark": {"type": "tick", "orient": "horizontal", "size": 29, "thickness": 1.3, "color": "#333"},
       "encoding": {"x": {"field": "sys", "type": "nominal", "sort": null}, "y": {"field": "qh", "type": "quantitative", "axis": null}}},
      {"mark": {"type": "tick", "orient": "horizontal", "size": 29, "thickness": 1.3, "color": "#333"},
       "encoding": {"x": {"field": "sys", "type": "nominal", "sort": null}, "y": {"field": "ql", "type": "quantitative", "axis": null}}},
      {"mark": {"type": "tick", "orient": "horizontal", "size": 29, "thickness": 1.3, "color": "#222"},
       "encoding": {"x": {"field": "sys", "type": "nominal", "sort": null}, "y": {"field": "med", "type": "quantitative", "axis": null}}},
      {"mark": {"type": "point", "filled": true, "fill": "white", "stroke": "#111", "strokeWidth": 2, "size": 110, "opacity": 1},
       "encoding": {"x": {"field": "sys", "type": "nominal", "sort": null}, "y": {"field": "med", "type": "quantitative", "axis": null}}}
    ],
    "resolve": {"axis": {"y": "independent"}}
  },
  {"width": 86, "height": 10, "data": {"values": []}, "mark": "point"},
  {
    "width": 143, "height": 147,
    "title": {"text": "g", "dx": -47, "offset": 6},
    "layer": [
      {"data": {"name": "gData"}, "mark": {"type": "circle", "size": 190, "fill": "#a8c48a", "fillOpacity": 0.35, "stroke": "#999", "strokeOpacity": 0.35, "strokeWidth": 1.5},
       "encoding": {
         "x": {"field": "k", "type": "quantitative", "scale": {"domain": [77, 252], "nice": false, "zero": false}, "axis": {"orient": "bottom", "values": [100,150,200,250], "title": "Node degree, kᵢ", "titlePadding": 9}},
         "y": {"field": "z", "type": "quantitative", "scale": {"domain": [-9.8, 7.5], "nice": false, "zero": false}, "axis": {"orient": "left", "values": [-5,0,5], "title": "Z-score, Δφᵢ", "titlePadding": 12}}}},
      {"data": {"values": [{}]}, "mark": {"type": "rule", "color": "#efa088", "strokeWidth": 5},
       "encoding": {"y": {"datum": 0, "type": "quantitative", "axis": null}}},
      {"data": {"values": [{}]}, "mark": {"type": "rule", "color": "#EDB100", "strokeWidth": 5},
       "encoding": {
         "x": {"datum": 77, "type": "quantitative", "axis": {"orient": "top", "values": [100,150,200,250], "labels": false, "title": null}},
         "x2": {"datum": 252},
         "y": {"datum": -4.8, "type": "quantitative", "axis": {"orient": "right", "values": [-5,0,5], "labels": false, "title": null}},
         "y2": {"datum": -0.2}}},
      {"data": {"values": [{}]}, "mark": {"type": "text", "fontSize": 16, "align": "right", "baseline": "middle", "color": "#111"},
       "encoding": {"x": {"datum": 249, "type": "quantitative", "axis": null}, "y": {"datum": -5.6, "type": "quantitative", "axis": null}, "text": {"value": "r = 0.37"}}},
      {"data": {"values": [{}]}, "mark": {"type": "text", "fontSize": 16, "align": "right", "baseline": "middle", "color": "#111"},
       "encoding": {"x": {"datum": 249, "type": "quantitative", "axis": null}, "y": {"datum": -7.8, "type": "quantitative", "axis": null}, "text": {"value": "p = 10⁻⁴·⁸⁷"}}}
    ],
    "resolve": {"axis": {"x": "independent", "y": "independent"}}
  }
 ], "bounds": "flush", "spacing": 0,
 "resolve": {"scale": {"fill": "independent", "shape": "independent", "color": "independent", "stroke": "independent"}, "legend": {"fill": "independent", "shape": "independent", "color": "independent", "stroke": "independent"}}}
]
}
